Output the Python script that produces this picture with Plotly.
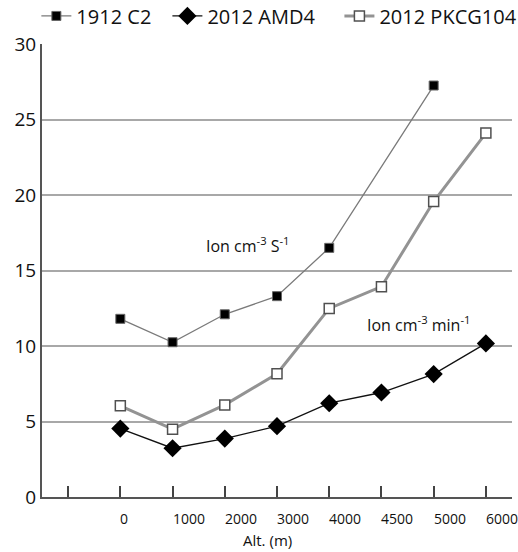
import plotly.graph_objects as go

categories = ["", "0", "1000", "2000", "3000", "4000", "4500", "5000", "6000"]
c2_1912 = [None, 11.8, 10.25, 12.1, 13.3, 16.5, None, 27.25, None]
amd4_2012 = [None, 4.53, 3.23, 3.87, 4.69, 6.21, 6.92, 8.14, 10.17]
pkcg104_2012 = [None, 6.04, 4.49, 6.1, 8.16, 12.49, 13.93, 19.57, 24.1]
yticks = [0, 5, 10, 15, 20, 25, 30]

xpos = list(range(len(categories)))

def pts(vals):
    xs = [x for x, v in zip(xpos, vals) if v is not None]
    ys = [v for v in vals if v is not None]
    return xs, ys

FONT = "Open Sans"
fig = go.Figure()

x, y = pts(c2_1912)
fig.add_trace(go.Scatter(x=x, y=y, name="1912 C2", mode="lines+markers", legend="legend",
                         line=dict(color="#7a7a7a", width=1.3),
                         marker=dict(symbol="square", size=9, color="black",
                                     line=dict(color="#666666", width=1))))
x, y = pts(amd4_2012)
fig.add_trace(go.Scatter(x=x, y=y, name="2012 AMD4", mode="lines+markers", legend="legend2",
                         line=dict(color="#111111", width=1.3),
                         marker=dict(symbol="diamond", size=14, color="black",
                                     line=dict(width=0))))
x, y = pts(pkcg104_2012)
fig.add_trace(go.Scatter(x=x, y=y, name="2012 PKCG104", mode="lines+markers", legend="legend3",
                         line=dict(color="#939393", width=3),
                         marker=dict(symbol="square", size=10, color="white",
                                     line=dict(color="#505050", width=1.5))))

# x-axis category labels, left-aligned at each tick
for xv, lab in zip(xpos, categories):
    if lab:
        fig.add_annotation(x=xv, y=0, xref="x", yref="y", xanchor="left",
                           yanchor="top", yshift=-10, xshift=-2, showarrow=False,
                           text=lab, font=dict(family=FONT, size=14, color="#111"))

fig.add_annotation(x=3.43, y=16.7, xref="x", yref="y", showarrow=False,
                   text="Ion cm<sup>-3</sup> S<sup>-1</sup>",
                   font=dict(family=FONT, size=16, color="#111"))
fig.add_annotation(x=6.7, y=11.43, xref="x", yref="y", showarrow=False,
                   text="Ion cm<sup>-3</sup> min<sup>-1</sup>",
                   font=dict(family=FONT, size=16, color="#111"))
fig.add_annotation(x=0.479, y=0, xref="paper", yref="paper", yanchor="middle",
                   yshift=-43, showarrow=False, text="Alt. (m)",
                   font=dict(family=FONT, size=15, color="#111"))

leg_common = dict(orientation="h", xanchor="left", y=1.105, yanchor="top",
                  font=dict(family=FONT, size=20, color="#111"),
                  bgcolor="rgba(0,0,0,0)")

fig.update_layout(
    width=518, height=552,
    margin=dict(l=42, r=6, t=44, b=55, autoexpand=False),
    paper_bgcolor="white", plot_bgcolor="white",
    font=dict(family=FONT, color="#111"),
    showlegend=True,
    legend=dict(x=-0.012, **leg_common),
    legend2=dict(x=0.2668, **leg_common),
    legend3=dict(x=0.6328, **leg_common),
    xaxis=dict(range=[-0.5, 8.5], tickmode="array", tickvals=xpos,
               showticklabels=False, automargin=False,
               ticks="inside", ticklen=11, tickwidth=1.5, tickcolor="#444",
               showline=True, linecolor="#555", linewidth=2,
               showgrid=False, zeroline=False),
    yaxis=dict(range=[0, 30], tickmode="array", tickvals=yticks, automargin=False,
               showline=True, linecolor="#555", linewidth=2,
               showgrid=True, gridcolor="#a8a8a8", gridwidth=1.5,
               zeroline=False, ticks="",
               tickfont=dict(family=FONT, size=19, color="#111")),
)

fig.write_html("out.html")
